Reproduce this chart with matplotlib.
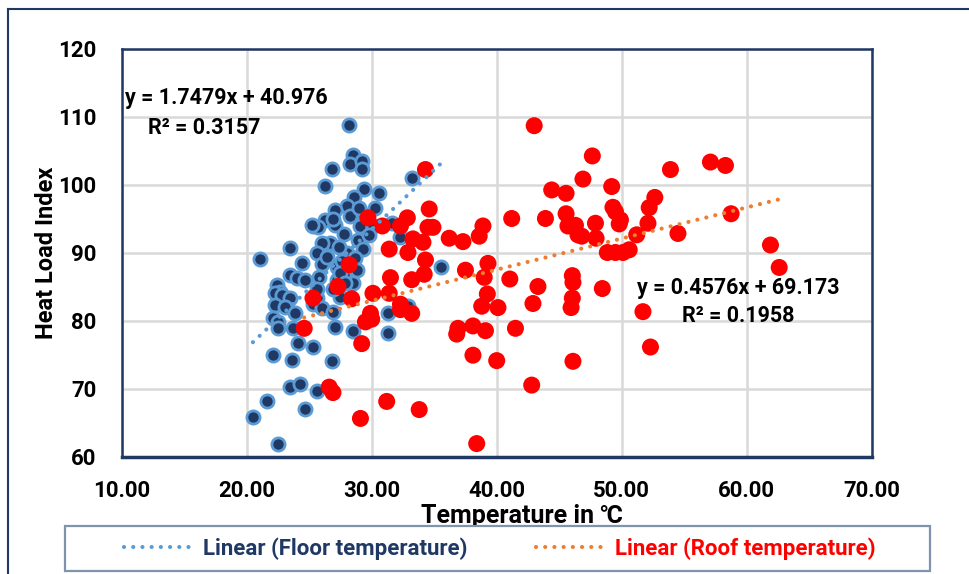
import matplotlib
matplotlib.use("Agg")
import matplotlib.pyplot as plt
from matplotlib.lines import Line2D
from matplotlib.patches import Rectangle
import numpy as np

plt.rcParams['font.family'] = ['Roboto', 'DejaVu Sans']
plt.rcParams['font.weight'] = 'bold'

# ---------------- data ----------------
floor_x = [28.2, 28.5, 28.3, 29.25, 29.2, 26.85, 26.26, 33.2, 29.4, 28.6, 30.6, 30.3, 28.05, 27.1,
           28.3, 29.4, 26.3, 25.3, 25.7, 27.1, 29.1, 30.1, 31.6, 32.3, 27.8, 26.7, 26.05, 28.9,
           29.3, 28.0, 25.6, 23.5, 21.1, 24.4, 26.0, 27.2, 28.4, 23.5, 24.0, 24.7, 27.5, 28.3,
           25.8, 22.4, 22.7, 22.3, 23.3, 25.6, 27.5, 32.9, 22.8, 23.5, 22.3, 23.1, 23.9, 22.1,
           22.5, 22.5, 23.7, 25.6, 25.3, 26.0, 26.9, 27.1, 28.5, 31.3, 31.3, 24.1, 25.3, 22.1,
           23.6, 26.85, 23.5, 24.3, 25.6, 21.65, 24.66, 20.5, 22.5, 35.55, 26.9, 25.2, 26.9,
           28.7, 27.6, 29.8, 27.4, 26.4, 29.0, 28.3, 27.8, 28.8, 27.2, 27.5, 28.5, 27.9]
floor_y = [108.7, 104.4, 103.0, 103.4, 102.3, 102.3, 99.8, 101.0, 99.3, 98.2, 98.7, 96.6, 96.9, 96.25,
           95.3, 95.5, 94.8, 93.9, 93.7, 94.1, 93.9, 93.9, 94.4, 92.3, 92.7, 91.4, 91.35, 91.9,
           90.5, 90.0, 90.0, 90.6, 89.0, 88.4, 88.3, 87.9, 87.9, 86.7, 86.2, 86.0, 86.2, 85.7,
           86.4, 85.2, 84.2, 84.0, 83.0, 83.3, 83.5, 82.1, 83.75, 83.3, 82.3, 82.0, 81.1, 80.3,
           79.8, 78.85, 78.85, 84.7, 82.5, 81.8, 81.3, 79.1, 78.5, 81.15, 78.1, 76.7, 76.1, 74.9,
           74.2, 74.1, 70.2, 70.6, 69.6, 68.1, 67.0, 65.8, 61.9, 87.9, 84.7, 94.0, 95.0,
           89.2, 88.8, 92.6, 90.8, 89.3, 96.5, 86.7, 86.7, 87.4, 86.0, 87.0, 85.5, 85.5]

roof_x = [43.0, 34.3, 44.4, 45.55, 46.9, 34.6, 32.85, 29.7, 30.85, 32.3, 34.5, 34.9, 41.2, 43.9,
          45.55, 45.7, 46.3, 46.5, 38.9, 38.6, 36.2, 37.3, 33.3, 34.1, 31.4, 32.9, 34.3, 28.2,
          39.3, 37.5, 39.0, 34.2, 31.5, 33.2, 41.05, 46.05, 46.1, 43.3, 27.3, 30.1, 31.4, 39.25,
          28.4, 38.8, 40.1, 42.9, 46.05, 45.95, 32.3, 32.3, 33.2, 29.9, 30.0, 29.5, 36.9, 36.8,
          38.1, 39.1, 41.5, 29.2, 38.1, 40.0, 46.1, 42.8, 26.6, 26.9, 31.2, 33.8, 29.1, 38.4,
          25.3, 24.6, 47.65, 53.9, 57.1, 58.3, 49.2, 52.65, 52.2, 49.3, 49.5, 49.9, 49.8, 46.8,
          47.9, 47.95, 52.1, 51.2, 54.5, 58.75, 48.85, 49.5, 50.1, 50.6, 61.9, 62.6, 48.45,
          51.7, 52.3]
roof_y = [108.65, 102.2, 99.2, 98.7, 100.8, 96.4, 95.1, 95.1, 93.9, 93.9, 93.7, 93.7, 95.0, 95.0,
          95.7, 93.9, 94.0, 92.6, 93.9, 92.4, 92.1, 91.6, 92.0, 91.5, 90.5, 90.0, 88.9, 88.2,
          88.4, 87.4, 86.35, 86.8, 86.3, 86.0, 86.1, 86.6, 85.6, 85.0, 85.0, 84.0, 84.0, 83.9,
          83.2, 82.1, 81.9, 82.5, 83.3, 81.9, 82.4, 81.6, 81.05, 81.05, 80.2, 79.8, 78.85, 78.0,
          79.2, 78.5, 78.85, 76.6, 74.9, 74.1, 74.0, 70.5, 70.2, 69.4, 68.1, 66.9, 65.6, 61.9,
          83.3, 78.85, 104.2, 102.2, 103.3, 102.8, 99.7, 98.1, 96.6, 96.65, 96.0, 94.8, 94.2, 92.4,
          94.3, 92.1, 94.3, 92.6, 92.8, 95.7, 90.0, 90.0, 90.0, 90.4, 91.1, 87.8, 84.7,
          81.3, 76.1]

# trendline coefficients (slope, intercept) and extents as shown
floor_fit = (1.7479, 40.976)
roof_fit = (0.4576, 69.173)
floor_span = (20.5, 35.55)
roof_span = (24.6, 62.6)

x_ticks = [10, 20, 30, 40, 50, 60, 70]
y_ticks = [60, 70, 80, 90, 100, 110, 120]

# ---------------- figure ----------------
W, H = 969, 574
fig = plt.figure(figsize=(W / 100, H / 100), dpi=100)
ax = fig.add_axes([121.7 / W, 1 - 456.5 / H, 750 / W, 408 / H])

navy = '#1F3864'
blue_edge = '#5B9BD5'
orange = '#ED7D31'
red = '#FF0000'

ax.scatter(floor_x, floor_y, s=90, facecolor=navy, edgecolor=blue_edge, linewidths=2.0, zorder=3)
ax.scatter(roof_x, roof_y, s=150, facecolor=red, edgecolor='none', zorder=4)

dots = (0, (0.01, 2.2))
fx = np.array(floor_span)
rx = np.array(roof_span)
l1, = ax.plot(fx, floor_fit[0] * fx + floor_fit[1], color=blue_edge, lw=3.0,
              linestyle=dots, dash_capstyle='round', zorder=5,
              label='Linear (Floor temperature)')
l2, = ax.plot(rx, roof_fit[0] * rx + roof_fit[1], color=orange, lw=3.0,
              linestyle=dots, dash_capstyle='round', zorder=5,
              label='Linear (Roof temperature)')

ax.set_xlim(10, 70)
ax.set_ylim(60, 120)
ax.set_xticks(x_ticks)
ax.set_yticks(y_ticks)
ax.set_xticklabels([f"{v:.2f}" for v in x_ticks])
ax.set_yticklabels([str(v) for v in y_ticks])
ax.tick_params(axis='both', length=0, labelsize=16, colors='black')
ax.tick_params(axis='x', pad=17)
ax.tick_params(axis='y', pad=18)
for lab in ax.get_xticklabels() + ax.get_yticklabels():
    lab.set_fontweight('bold')

ax.grid(True, color='#D9D9D9', lw=1.8, zorder=0)
ax.set_axisbelow(True)
for sp in ax.spines.values():
    sp.set_color(navy)
    sp.set_linewidth(1.8)
ax.spines['bottom'].set_linewidth(2.5)

ax.set_ylabel('Heat Load Index', fontsize=17, fontweight='bold')
ax.yaxis.set_label_coords((47 - 121.7) / 750, 0.5)
ax.yaxis.label.set_va('center')
ax.set_xlabel('Temperature in ℃', fontsize=18, fontweight='bold')
ax.xaxis.set_label_coords((522 - 121.7) / 750, -(516 - 456.5) / 408)
ax.xaxis.label.set_va('center')

eq_fs = 15.5
ax.text(10.25, 112.7, "y = 1.7479x + 40.976", fontsize=eq_fs, fontweight='bold',
        ha='left', va='center', zorder=6)
ax.text(16.6, 108.3, "R² = 0.3157", fontsize=eq_fs, fontweight='bold',
        ha='center', va='center', zorder=6)
ax.text(59.3, 84.8, "y = 0.4576x + 69.173", fontsize=eq_fs, fontweight='bold',
        ha='center', va='center', zorder=6)
ax.text(59.3, 80.7, "R² = 0.1958", fontsize=eq_fs, fontweight='bold',
        ha='center', va='center', zorder=6)

# legend box
fig.patches.append(Rectangle((65 / W, 1 - 571 / H), 865 / W, 45 / H, transform=fig.transFigure,
                             facecolor='white', edgecolor='#7F93AD', lw=1.6, zorder=1))
leg = fig.legend(handles=[l1, l2], loc='center', bbox_to_anchor=(500 / W, 1 - 548.5 / H),
                 ncol=2, frameon=False, fontsize=16, handlelength=3.2, handletextpad=0.35,
                 columnspacing=3.1)
cols = [navy, red]
for t, c in zip(leg.get_texts(), cols):
    t.set_color(c)
    t.set_fontweight('bold')

# outer chart border
fig.add_artist(Line2D([8 / W, 8 / W], [0, 1 - 9 / H], transform=fig.transFigure, color=navy, lw=1.5))
fig.add_artist(Line2D([8 / W, 1], [1 - 9 / H, 1 - 9 / H], transform=fig.transFigure, color=navy, lw=1.5))

fig.savefig('out.png', dpi=100)
